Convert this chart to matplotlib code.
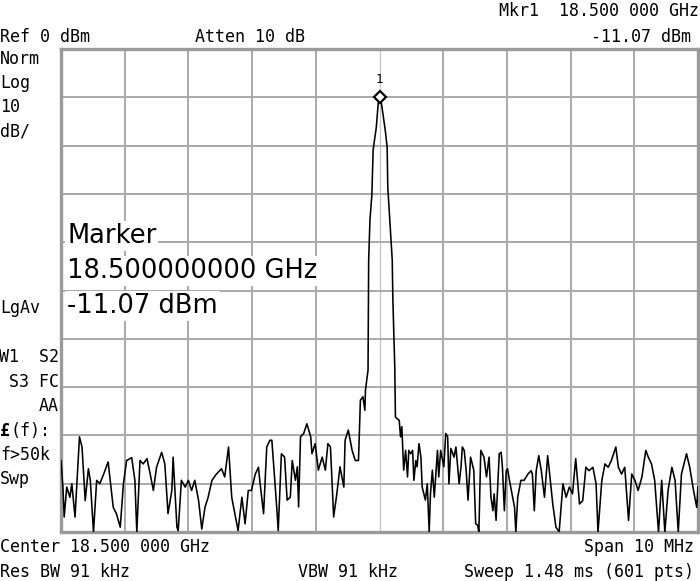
"""
Spectrum analyzer screen: single tone at 18.5 GHz, 10 MHz span, 10 dB/div.
"""

import matplotlib
matplotlib.use('Agg')
import matplotlib.pyplot as plt


# ---- Data ----

# Offset from center frequency (MHz) and displayed level (dBm)
freq_mhz = [
    -5.00, -4.97, -4.95, -4.91, -4.86, -4.83, -4.78, -4.71, -4.67, -4.62,
    -4.57, -4.54, -4.49, -4.44, -4.39, -4.33, -4.26, -4.18, -4.13, -4.07,
    -4.02, -3.97, -3.89, -3.84, -3.81, -3.76, -3.71, -3.65, -3.60, -3.55,
    -3.50, -3.42, -3.37, -3.32, -3.26, -3.24, -3.18, -3.16, -3.11, -3.05,
    -3.00, -2.95, -2.90, -2.84, -2.79, -2.74, -2.69, -2.63, -2.56, -2.48,
    -2.43, -2.37, -2.32, -2.27, -2.22, -2.16, -2.11, -2.06, -2.01, -1.95,
    -1.90, -1.88, -1.82, -1.77, -1.72, -1.69, -1.61, -1.59, -1.54, -1.49,
    -1.45, -1.40, -1.37, -1.32, -1.29, -1.27, -1.24, -1.19, -1.14, -1.08,
    -1.06, -1.01, -0.96, -0.90, -0.85, -0.81, -0.77, -0.72, -0.67, -0.62,
    -0.56, -0.54, -0.49, -0.43, -0.38, -0.33, -0.30, -0.26, -0.23, -0.22,
    -0.18, -0.17, -0.15, -0.12, -0.10, -0.05, -0.02, 0.00, 0.03, 0.09,
    0.12, 0.13, 0.18, 0.20, 0.21, 0.24, 0.25, 0.31, 0.33, 0.35,
    0.38, 0.41, 0.44, 0.46, 0.49, 0.52, 0.54, 0.57, 0.59, 0.62,
    0.65, 0.67, 0.72, 0.75, 0.78, 0.80, 0.83, 0.86, 0.91, 0.93,
    0.96, 1.01, 1.04, 1.07, 1.09, 1.12, 1.17, 1.20, 1.25, 1.28,
    1.30, 1.33, 1.36, 1.39, 1.43, 1.48, 1.51, 1.54, 1.56, 1.59,
    1.64, 1.68, 1.72, 1.75, 1.78, 1.80, 1.83, 1.88, 1.91, 1.93,
    1.96, 1.99, 2.01, 2.04, 2.09, 2.12, 2.14, 2.17, 2.22, 2.27,
    2.33, 2.38, 2.40, 2.43, 2.46, 2.50, 2.54, 2.59, 2.64, 2.66,
    2.72, 2.77, 2.82, 2.88, 2.93, 2.98, 3.03, 3.08, 3.14, 3.19,
    3.24, 3.29, 3.35, 3.40, 3.43, 3.49, 3.54, 3.59, 3.64, 3.71,
    3.75, 3.80, 3.85, 3.91, 3.96, 4.01, 4.06, 4.12, 4.18, 4.22,
    4.27, 4.32, 4.38, 4.43, 4.48, 4.53, 4.59, 4.64, 4.69, 4.74,
    4.82, 4.87, 4.93, 4.98, 5.00,
]
level_dbm = [
    -85.2, -90.7, -96.9, -90.7, -92.8, -90.0, -96.9, -80.3, -82.4, -93.5,
    -86.9, -89.3, -100.0, -89.3, -90.0, -88.0, -85.5, -94.9, -96.2, -99.0,
    -90.0, -85.2, -84.6, -89.3, -100.0, -85.2, -85.9, -84.8, -88.0, -91.4,
    -86.6, -83.5, -85.9, -96.2, -91.4, -84.5, -99.0, -99.7, -89.3, -90.7,
    -89.3, -91.4, -89.3, -93.5, -99.4, -94.9, -92.8, -89.3, -88.0, -86.9,
    -88.6, -82.4, -92.8, -96.2, -99.7, -92.8, -98.3, -91.4, -91.4, -88.0,
    -86.6, -89.3, -96.2, -82.4, -81.0, -81.0, -95.5, -99.7, -83.8, -84.5,
    -93.4, -92.8, -85.2, -89.3, -86.5, -94.8, -80.3, -79.6, -77.6, -80.3,
    -83.8, -81.7, -87.2, -84.5, -87.2, -81.7, -82.4, -96.9, -92.1, -86.5,
    -90.7, -81.0, -78.9, -83.1, -85.2, -85.2, -72.7, -72.0, -74.8, -70.6,
    -66.5, -43.7, -35.4, -30.3, -20.9, -16.2, -11.2, -9.95, -11.2, -16.8,
    -20.3, -28.6, -39.6, -43.7, -52.0, -66.0, -76.2, -76.9, -80.3, -78.2,
    -87.2, -83.1, -88.6, -83.1, -83.8, -83.1, -89.3, -85.2, -86.5, -81.7,
    -84.5, -90.7, -93.4, -90.0, -100.0, -92.1, -87.2, -92.8, -83.1, -88.6,
    -83.1, -86.5, -79.6, -80.3, -90.0, -82.7, -84.5, -82.4, -90.0, -86.5,
    -82.4, -83.1, -87.2, -93.4, -84.5, -87.2, -98.3, -98.6, -100.0, -83.1,
    -84.5, -88.6, -84.5, -92.8, -95.6, -92.1, -97.6, -83.8, -83.5, -86.6,
    -95.6, -87.3, -86.9, -89.3, -92.8, -94.9, -100.0, -92.8, -89.3, -89.3,
    -88.0, -87.3, -88.0, -95.6, -87.3, -84.2, -87.3, -92.8, -84.2, -86.6,
    -94.2, -99.0, -100.0, -90.0, -92.8, -90.7, -92.1, -84.8, -94.2, -93.5,
    -86.6, -87.3, -86.6, -90.0, -100.0, -89.3, -85.9, -86.6, -85.2, -82.4,
    -86.6, -88.0, -86.6, -97.6, -88.0, -89.3, -91.4, -88.6, -83.1, -84.5,
    -85.9, -89.3, -100.0, -89.3, -100.0, -91.4, -86.6, -89.3, -100.0, -88.0,
    -83.8, -86.6, -91.4, -94.9, -90.7,
]

marker_freq_mhz = 0.0
marker_level_dbm = -9.95

ref_level = 0
db_per_div = 10
span_mhz = 10

# Screen annotation lines: (text, x px, y px, alignment)
header_left = [('Ref 0 dBm', 0, 37, 'left'), ('Atten 10 dB', 195, 37, 'left')]
header_right = [('Mkr1  18.500 000 GHz', 699, 11, 'right'), ('-11.07 dBm', 691, 37, 'right')]
side_labels = [('Norm', 0, 59, 'left'), ('Log', 0, 83, 'left'), ('10', 0, 107, 'left'),
               ('dB/', 0, 131, 'left'), ('LgAv', 0, 308, 'left'), ('W1  S2', 59, 357, 'right'),
               ('S3 FC', 59, 382, 'right'), ('AA', 59, 406, 'right'), ('f>50k', 0, 455, 'left'),
               ('Swp', 0, 479, 'left')]
footer_labels = [('Center 18.500 000 GHz', 0, 547, 'left'), ('Span 10 MHz', 694, 547, 'right'),
                 ('Res BW 91 kHz', 0, 572, 'left'), ('VBW 91 kHz', 298, 572, 'left'),
                 ('Sweep 1.48 ms (601 pts)', 694, 572, 'right')]
marker_block = ['Marker', '18.500000000 GHz', '-11.07 dBm']


# ---- Plot ----

W, H = 700, 581
fig = plt.figure(figsize=(W / 100, H / 100), dpi=100)
fig.patch.set_facecolor('white')

ax = fig.add_axes([61 / W, 1 - 532 / H, (698 - 61) / W, (532 - 49) / H])
ax.set_xlim(-span_mhz / 2, span_mhz / 2)
ax.set_ylim(ref_level - 10 * db_per_div, ref_level)

grid_color = '#a9a9a9'
for f in range(-4, 5):
    if f == 0:
        ax.axvline(f, color='#c4c4c4', linewidth=0.9, zorder=1)
    else:
        ax.axvline(f, color=grid_color, linewidth=1.4, zorder=1)
for lvl in range(-90, 0, 10):
    ax.axhline(lvl, color=grid_color, linewidth=1.4, zorder=1)

for side in ['left', 'bottom', 'right', 'top']:
    ax.spines[side].set_color('#9a9a9a')
    ax.spines[side].set_linewidth(2.4)
ax.set_xticks([])
ax.set_yticks([])

# Trace
ax.plot(freq_mhz, level_dbm, color='black', linewidth=1.15, zorder=3, clip_on=True)

# Marker
ax.plot(marker_freq_mhz, marker_level_dbm, marker='D', markersize=6,
        markerfacecolor='white', markeredgecolor='black', markeredgewidth=1.6, zorder=4)
ax.annotate('1', (marker_freq_mhz, marker_level_dbm), xytext=(0, 8), textcoords='offset points',
            ha='center', va='bottom', fontsize=9, family='DejaVu Sans Mono')

# Instrument annotations
mono = 'DejaVu Sans Mono'
for txt, x, y, ha in header_left + header_right + side_labels + footer_labels:
    fig.text(x / W, 1 - y / H, txt, ha=ha, va='center', fontsize=12, family=mono)

fig.text(0 / W, 1 - 431 / H, '\u00a3', ha='left', va='center', fontsize=12, family=mono,
         fontweight='bold')
fig.text(10 / W, 1 - 431 / H, '(f):', ha='left', va='center', fontsize=12, family=mono)

# Big marker readout with white background (hides grid)
for i, txt in enumerate(marker_block):
    fig.text(67 / W, 1 - (236 + 35 * i) / H, txt, ha='left', va='center', fontsize=18.5,
             family='DejaVu Sans', zorder=5,
             bbox=dict(facecolor='white', edgecolor='none', pad=1.5))

fig.savefig('out.png', dpi=100, facecolor='white')
